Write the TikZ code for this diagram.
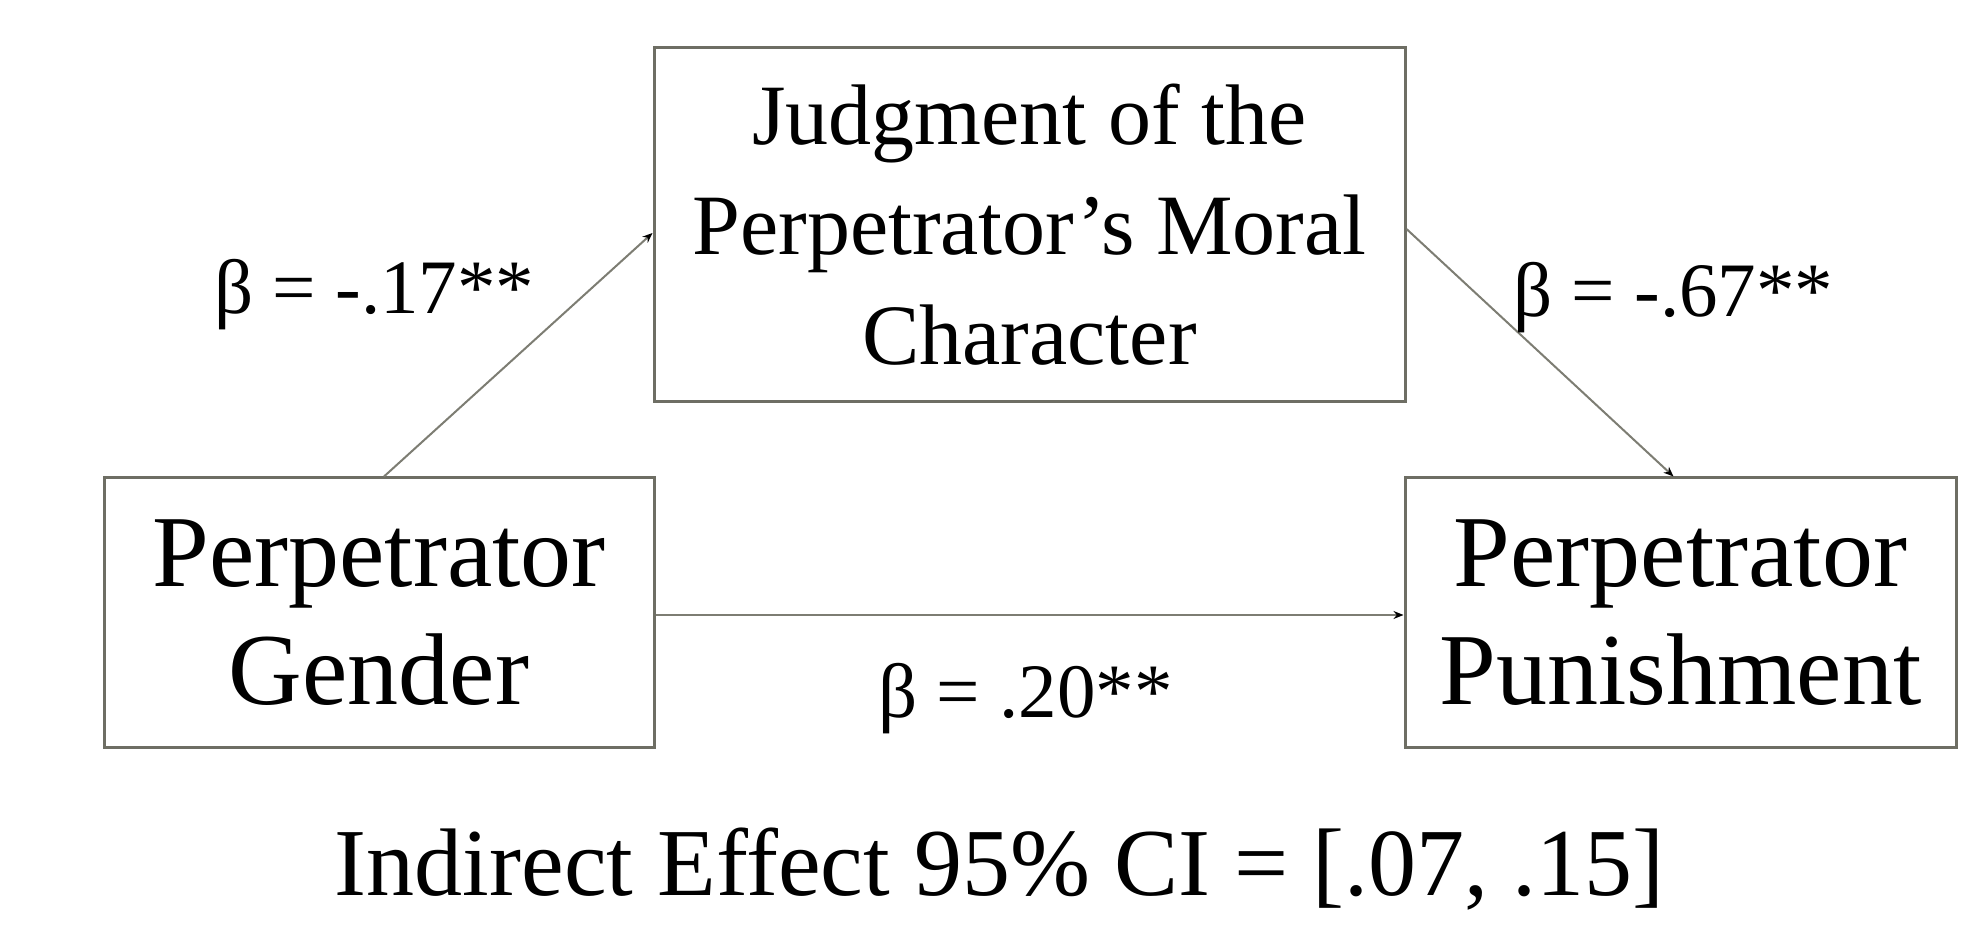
\documentclass[tikz,border=0pt]{standalone}
\usepackage{fontspec}
\setmainfont{Liberation Serif}
\usetikzlibrary{arrows.meta}
\definecolor{boxgray}{RGB}{110,110,100}
\definecolor{linegray}{RGB}{125,125,115}
\begin{document}
\begin{tikzpicture}[x=0.5pt,y=-0.5pt,
  box/.style={draw=boxgray, line width=1.5pt, inner sep=0pt, align=center},
  bigtext/.style={font=\fontsize{51}{59}\selectfont},
  midtext/.style={font=\fontsize{43}{55}\selectfont},
  link/.style={draw=linegray, line width=1pt, -{Stealth[length=5pt,width=4pt,color=black]}},
  coef/.style={font=\fontsize{38.5}{44}\selectfont, inner sep=0pt, anchor=base west}]
\useasboundingbox (0,0) rectangle (1972,930);
\node[box, midtext, minimum width=375.5pt, minimum height=177pt] (T) at (1029.5,225)
  {Judgment of the\\Perpetrator’s Moral\\Character};
\node[box, bigtext, minimum width=275pt, minimum height=134.5pt] (L) at (379,612.5)
  {Perpetrator\\Gender};
\node[box, bigtext, minimum width=275.5pt, minimum height=134.5pt] (R) at (1680.5,612.5)
  {Perpetrator\\Punishment};
\draw[link] ([xshift=2.5pt]L.north) -- ([yshift=-4pt]T.west);
\draw[link] ([yshift=-2pt]T.east) -- ([xshift=-3.5pt]R.north);
\draw[link] ([yshift=-1.25pt]L.east) -- ([yshift=-1.25pt]R.west);
\node[coef] (a) at (214,314) {β = -.17**};
\node[coef] (b) at (1513,317) {β = -.67**};
\node[coef] (c) at (878,717) {β = .20**};
\node[font=\fontsize{48}{56}\selectfont, inner sep=0pt, anchor=base] (ie) at (999.5,895)
  {Indirect Effect 95\% CI = [.07, .15]};
\end{tikzpicture}
\end{document}
